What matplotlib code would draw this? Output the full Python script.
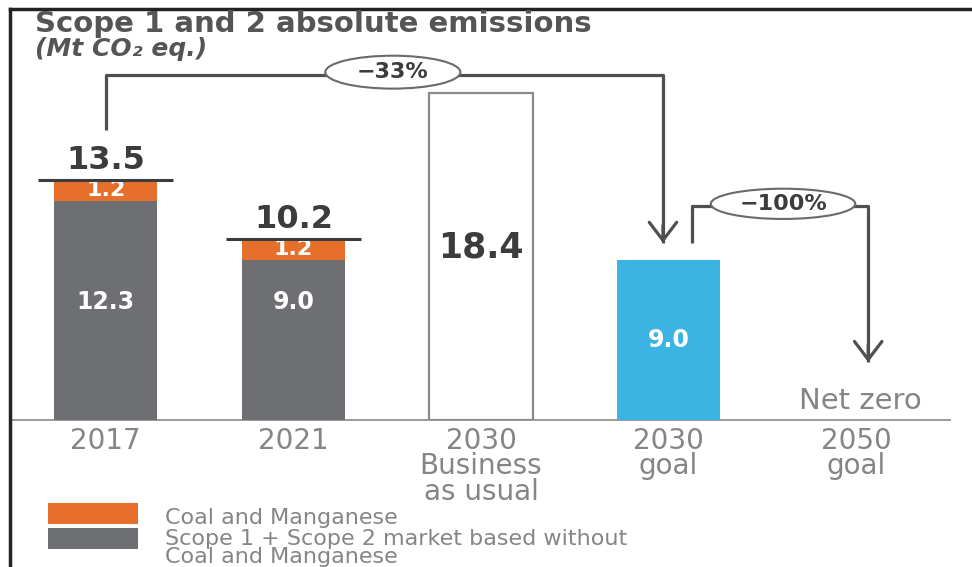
import matplotlib
matplotlib.use("Agg")
import matplotlib.pyplot as plt
from matplotlib.patches import Ellipse, Rectangle
from matplotlib.lines import Line2D

# data (Mt CO2 eq.)
categories = ["2017", "2021", "2030\nBusiness\nas usual", "2030\ngoal", "2050\ngoal"]
base_vals = [12.3, 9.0, 0, 0, 0]          # scope 1 + 2 without coal and manganese
coal_vals = [1.2, 1.2, 0, 0, 0]           # coal and manganese
totals = [13.5, 10.2, None, None, None]
bau_val = 18.4
goal_val = 9.0
legend_labels = ["Coal and Manganese",
                 "Scope 1 + Scope 2 market based without\nCoal and Manganese"]

orange = "#E56F2B"
grey = "#6E6F72"
blue = "#3BB4E4"
dark = "#3C3C3C"
txtgrey = "#858585"
linegrey = "#4F4F4F"

W, H = 972, 567
fig = plt.figure(figsize=(W / 100, H / 100), dpi=100)
# axes placed in pixels: baseline at y=420, top at y=9
ax = fig.add_axes([12 / W, (H - 420) / H, (950 - 12) / W, (420 - 9) / H])
ax.set_xlim(-0.5, 4.5)
ax.set_ylim(0, 23.1)
ax.axis("off")

x = list(range(len(categories)))
bw = 0.55

# stacked bars 2017 / 2021
ax.bar(x[:2], base_vals[:2], bw, color=grey, zorder=2)
ax.bar(x[:2], coal_vals[:2], bw, bottom=base_vals[:2], color=orange, zorder=2)
for i in range(2):
    ax.text(x[i], 6.65, f"{base_vals[i]:.1f}", ha="center", va="center",
            color="white", fontsize=17, fontweight="bold")
    ax.text(x[i], base_vals[i] + coal_vals[i] / 2, f"{coal_vals[i]:.1f}", ha="center",
            va="center", color="white", fontsize=16, fontweight="bold")
    ax.plot([x[i] - 0.36, x[i] + 0.36], [totals[i], totals[i]], color=dark, lw=2.2,
            solid_capstyle="butt", zorder=3)
    ax.text(x[i], totals[i] + 0.2, f"{totals[i]:.1f}", ha="center", va="bottom",
            color=dark, fontsize=23, fontweight="bold")

# business as usual (outlined)
ax.bar(x[2], bau_val, bw, facecolor="white", edgecolor="#8A8A8A", lw=1.6, zorder=2)
ax.text(x[2], 9.7, f"{bau_val:.1f}", ha="center", va="center", color=dark,
        fontsize=25, fontweight="bold", zorder=4)

# 2030 goal
ax.bar(x[3], goal_val, bw, color=blue, zorder=2)
ax.text(x[3], goal_val / 2, f"{goal_val:.1f}", ha="center", va="center",
        color="white", fontsize=17, fontweight="bold")

# baseline
ax.plot([-0.5, 4.5], [0, 0], color="#9A9A9A", lw=1.4, zorder=1, clip_on=False)

ax.text(x[4] + 0.02, 0.3, "Net zero", ha="center", va="bottom", color=txtgrey,
        fontsize=21)

# x labels
for i, c in enumerate(categories):
    ax.text(x[i], -0.4, c, ha="center", va="top", color=txtgrey, fontsize=20,
            linespacing=0.88)


def bracket(xs, ys, label, ecx, ew, eh, fs):
    ax.plot(xs, ys, color=linegrey, lw=2.3, solid_capstyle="butt", zorder=3)
    ax.annotate("", xy=(xs[-1], ys[-1]), xytext=(xs[-1], ys[-1] + 1.0),
                arrowprops=dict(arrowstyle="->,head_length=0.5,head_width=0.38",
                                color=linegrey, lw=2.3, shrinkA=0, shrinkB=0,
                                mutation_scale=26), zorder=3)
    ey = ys[1]
    ax.add_patch(Ellipse((ecx, ey + 0.15), ew, eh, facecolor="white",
                         edgecolor="#6A6A6A", lw=1.5, zorder=4))
    ax.text(ecx, ey + 0.15, label, ha="center", va="center", color=dark,
            fontsize=fs, fontweight="bold", zorder=5)


bracket([x[0], x[0], 2.97, 2.97], [16.3, 19.4, 19.4, goal_val + 0.95],
        "\u221233%", 1.53, 0.72, 1.85, 16)
bracket([3.125, 3.125, 4.064, 4.064], [goal_val + 0.95, 12.0, 12.0, 3.25],
        "\u2212100%", 3.61, 0.77, 1.7, 16)

# title
fig.text(35 / W, 1 - 32 / H, "Scope 1 and 2 absolute emissions", ha="left",
         va="baseline", color="#555555", fontsize=21, fontweight="bold")
fig.text(35 / W, 1 - 56 / H, "(Mt CO\u2082 eq.)", ha="left", va="baseline",
         color="#555555", fontsize=18, fontweight="bold", style="italic")

# legend
leg_colors = [orange, grey]
leg_y = [503, 528]
for col, yy in zip(leg_colors, leg_y):
    fig.patches.append(Rectangle((48 / W, 1 - (yy + 21) / H), 90 / W, 21 / H,
                                 facecolor=col, edgecolor="none",
                                 transform=fig.transFigure))
fig.text(165 / W, 1 - 518 / H, legend_labels[0], ha="left", va="center",
         color=txtgrey, fontsize=16)
fig.text(165 / W, 1 - 548 / H, legend_labels[1], ha="left", va="center",
         color=txtgrey, fontsize=16, linespacing=0.85)

# frame lines (top and left)
fig.lines.append(Line2D([10 / W, 1], [1 - 9 / H, 1 - 9 / H], color="#222222", lw=2.5,
                        transform=fig.transFigure))
fig.lines.append(Line2D([10 / W, 10 / W], [0, 1 - 9 / H], color="#222222", lw=2.5,
                        transform=fig.transFigure))

fig.savefig("out.png", dpi=100, facecolor="white")
